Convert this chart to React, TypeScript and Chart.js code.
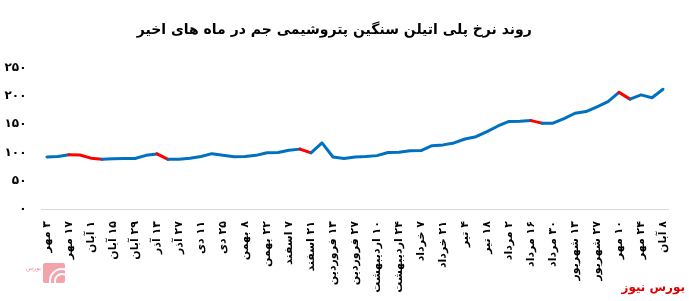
import React, { useEffect, useRef } from "react";
import { Chart, registerables } from "chart.js";

Chart.register(...registerables);

const titleText = "روند نرخ پلی اتیلن سنگین پتروشیمی جم در ماه های اخیر";
const sourceText = "بورس نیوز";

const dateLabels = [
  "۳ مهر", "۱۷ مهر", "۱ آبان", "۱۵ آبان", "۲۹ آبان", "۱۳ آذر", "۲۷ آذر",
  "۱۱ دی", "۲۵ دی", "۸ بهمن", "۲۲ بهمن", "۷ اسفند", "۲۱ اسفند",
  "۱۳ فروردین", "۲۷ فروردین", "۱۰ اردیبهشت", "۲۴ اردیبهشت", "۷ خرداد",
  "۲۱ خرداد", "۴ تیر", "۱۸ تیر", "۲ مرداد", "۱۶ مرداد", "۳۰ مرداد",
  "۱۳ شهریور", "۲۷ شهریور", "۱۰ مهر", "۲۴ مهر", "۸ آبان",
];

const prices = [
  92, 93, 96, 95.5, 90, 88, 89, 89.5, 89.5, 95,
  97.5, 88, 88, 90, 93, 98, 95, 92.5, 93, 95,
  99.5, 100, 104, 106, 99.5, 117, 92, 89.5, 92, 93,
  94.5, 100, 100.5, 103, 103.5, 112, 113.5, 117, 124, 128,
  137, 147, 155, 155.5, 156.5, 152, 152, 160, 169.5, 172.5,
  181, 190, 206.5, 194.5, 202, 197, 212,
];

// indices of segments (start point) drawn in red
const redSegments = [2, 3, 4, 10, 23, 44, 52];

const yMin = 0;
const yMax = 250;
const yStep = 50;

const BLUE = "#0070C0";
const RED = "#FF0000";

const faDigits = "۰۱۲۳۴۵۶۷۸۹";
const toFa = (v: number | string) =>
  String(v).replace(/\d/g, (d) => faDigits[Number(d)]);

export default function App() {
  const ref = useRef<HTMLCanvasElement>(null);

  useEffect(() => {
    const labels = prices.map((_, i) => (i % 2 === 0 ? dateLabels[i / 2] : ""));
    const chart = new Chart(ref.current!, {
      type: "line",
      data: {
        labels,
        datasets: [
          {
            data: prices,
            borderColor: BLUE,
            borderWidth: 3,
            pointRadius: 0,
            tension: 0,
            borderJoinStyle: "round",
            borderCapStyle: "round",
            segment: {
              borderColor: (c: any) =>
                redSegments.includes(c.p0DataIndex) ? RED : BLUE,
            },
          },
        ],
      },
      options: {
        responsive: false,
        maintainAspectRatio: false,
        animation: false,
        layout: { padding: { left: 0, right: 20.5, top: 0, bottom: 0 } },
        plugins: {
          legend: { display: false },
          tooltip: { enabled: false },
          title: {
            display: true,
            text: titleText,
            color: "#000",
            font: { family: "DejaVu Sans", size: 14, weight: "bold" },
            padding: { top: 22, bottom: 29 },
          },
        },
        scales: {
          x: {
            offset: true,
            grid: { display: false, drawTicks: false },
            border: { display: true, color: "#D9D9D9", width: 1 },
            ticks: {
              autoSkip: false,
              minRotation: 90,
              maxRotation: 90,
              padding: 12,
              color: "#000",
              font: { family: "DejaVu Sans", size: 11, weight: "bold" },
            },
            afterFit: (s: any) => {
              s.height = 92;
            },
          },
          y: {
            min: yMin,
            max: yMax,
            grid: { display: false, drawTicks: false },
            border: { display: false },
            ticks: {
              stepSize: yStep,
              padding: 15,
              color: "#000",
              font: { family: "DejaVu Sans", size: 12, weight: "bold" },
              callback: (v: any) => toFa(v),
            },
            afterFit: (s: any) => {
              s.width = 41.5;
            },
          },
        },
      },
    });
    return () => chart.destroy();
  }, []);

  return (
    <div
      style={{
        position: "fixed",
        left: 0,
        top: 0,
        width: 689,
        height: 301,
        background: "#fff",
        overflow: "hidden",
      }}
    >
      <canvas ref={ref} width={689} height={301} dir="rtl" style={{ display: "block" }} />
      <div
        style={{
          position: "absolute",
          left: 43,
          top: 263,
          width: 22,
          height: 20,
          background: "#F3A3AA",
          borderRadius: 2,
          overflow: "hidden",
        }}
      >
        <div style={{ position: "absolute", left: 6, top: 5, width: 22, height: 22, border: "2px solid #fff", borderRadius: "50%" }} />
        <div style={{ position: "absolute", left: 11, top: 10, width: 12, height: 12, border: "2px solid #fff", borderRadius: "50%" }} />
      </div>
      <div
        style={{
          position: "absolute",
          left: 26,
          top: 264,
          fontFamily: "DejaVu Sans",
          fontSize: 6,
          color: "#F08A93",
          direction: "rtl",
        }}
      >
        بورس
      </div>
      <div
        style={{
          position: "absolute",
          right: 4,
          top: 280,
          fontFamily: "DejaVu Sans",
          fontWeight: "bold",
          fontSize: 12,
          color: "#E00000",
          direction: "rtl",
        }}
      >
        {sourceText}
      </div>
    </div>
  );
}
